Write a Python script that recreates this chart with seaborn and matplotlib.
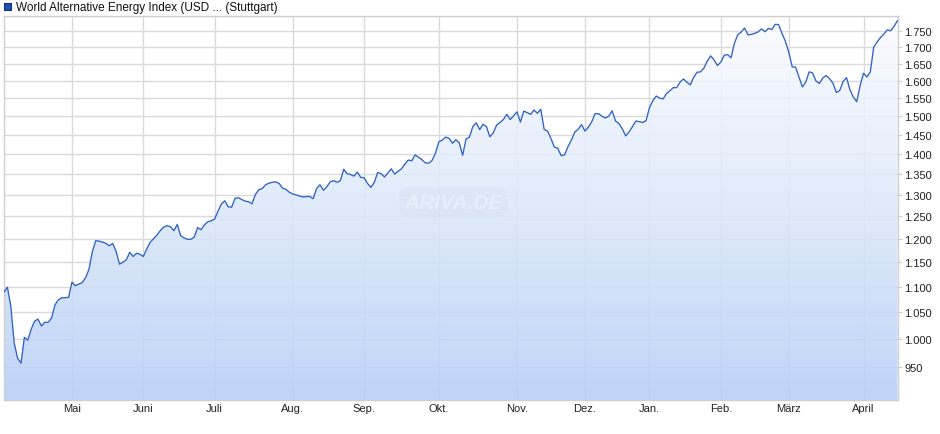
import numpy as np
import pandas as pd
import seaborn as sns
import matplotlib.pyplot as plt
from matplotlib.colors import LinearSegmentedColormap
from matplotlib.patches import Rectangle
from matplotlib.ticker import FixedLocator, FuncFormatter, NullLocator

title = "World Alternative Energy Index (USD ... (Stuttgart)"

# trading days (Stuttgart), holidays removed
start_day = "2025-04-01"
end_day = "2026-04-17"
holidays = ["2025-04-18", "2025-04-21", "2025-05-01", "2025-12-24", "2025-12-25",
            "2025-12-26", "2025-12-31", "2026-01-01", "2026-04-03", "2026-04-06"]

# closing values, month by month
apr25 = [1089, 1099, 1062, 993, 966, 957, 1003, 998, 1018, 1033, 1037, 1024, 1031, 1031,
         1039, 1064, 1074, 1078, 1078, 1079]
may25 = [1109, 1102, 1105, 1108, 1118, 1135, 1172, 1196, 1195, 1193, 1190, 1185, 1190, 1173,
         1146, 1150, 1155, 1171, 1162, 1169, 1167]
jun25 = [1162, 1178, 1192, 1200, 1208, 1218, 1226, 1229, 1227, 1218, 1232, 1207, 1202, 1199,
         1199, 1204, 1225, 1220, 1231, 1238, 1240]
jul25 = [1244, 1262, 1279, 1286, 1272, 1271, 1292, 1293, 1289, 1285, 1284, 1279, 1301, 1312,
         1315, 1324, 1328, 1330, 1331, 1327, 1316, 1313, 1306]
aug25 = [1302, 1300, 1297, 1295, 1296, 1296, 1291, 1315, 1324, 1311, 1319, 1331, 1334, 1330,
         1334, 1362, 1351, 1349, 1345, 1355, 1342]
sep25 = [1341, 1327, 1318, 1330, 1354, 1351, 1343, 1353, 1363, 1350, 1357, 1363, 1375, 1385,
         1383, 1398, 1392, 1386, 1378, 1377, 1384, 1402]
oct25 = [1432, 1436, 1444, 1441, 1428, 1437, 1429, 1397, 1439, 1444, 1472, 1482, 1464, 1478,
         1472, 1445, 1455, 1476, 1483, 1491, 1505, 1491, 1501]
nov25 = [1512, 1484, 1514, 1510, 1505, 1517, 1508, 1519, 1464, 1460, 1440, 1418, 1415, 1396,
         1398, 1419, 1436, 1457, 1465, 1477]
dec25 = [1460, 1470, 1485, 1507, 1507, 1500, 1495, 1500, 1515, 1487, 1480, 1466, 1447, 1458,
         1472, 1487, 1485, 1483, 1488]
jan26 = [1524, 1543, 1556, 1550, 1548, 1563, 1571, 1580, 1580, 1596, 1605, 1596, 1588, 1610,
         1625, 1626, 1637, 1658, 1674, 1662, 1645]
feb26 = [1655, 1676, 1678, 1668, 1713, 1740, 1748, 1761, 1739, 1741, 1744, 1749, 1758, 1749,
         1760, 1756, 1773, 1772, 1744, 1719]
mar26 = [1685, 1641, 1640, 1611, 1582, 1596, 1626, 1623, 1599, 1592, 1608, 1615, 1606, 1593,
         1566, 1572, 1598, 1609, 1574, 1553, 1540, 1586]
apr26 = [1622, 1611, 1626, 1701, 1717, 1731, 1742, 1755, 1752, 1767, 1785]

month_names = ["Mai", "Juni", "Juli", "Aug.", "Sep.", "Okt.", "Nov.", "Dez.",
               "Jan.", "Feb.", "März", "April"]
y_ticks = [950, 1000, 1050, 1100, 1150, 1200, 1250, 1300, 1350, 1400, 1450,
           1500, 1550, 1600, 1650, 1700, 1750]
y_grid_extra = [1800]

prices = apr25 + may25 + jun25 + jul25 + aug25 + sep25 + oct25 + nov25 + dec25 + jan26 + feb26 + mar26 + apr26

days = pd.bdate_range(start_day, end_day)
days = days[~days.isin(pd.to_datetime(holidays))]
df = pd.DataFrame({"day": days, "price": prices})
df["pos"] = np.arange(len(df))

# first trading day of every month (skip the starting month)
month_start = df.groupby(df["day"].dt.to_period("M"))["pos"].min().values[1:]

sns.set_style("white")
plt.rcParams["font.family"] = ["Liberation Sans", "DejaVu Sans"]

fig = plt.figure(figsize=(9.4, 4.35), dpi=100)
ax = fig.add_axes([4 / 940, 34 / 435, 893.5 / 940, 384 / 435])

line_col = "#2f62c6"
grid_col = "#dadada"

# gradient fill under the curve
grad = np.linspace(0, 1, 256).reshape(-1, 1)
cmap = LinearSegmentedColormap.from_list("fill", ["#b6cff6", "#dce8fa", "#fbfcff"])
img = ax.imshow(grad, cmap=cmap, aspect="auto", extent=[0, 1, 0, 1],
                transform=ax.transAxes, origin="lower", zorder=1, alpha=0.88,
                interpolation="bilinear")

sns.lineplot(data=df, x="pos", y="price", ax=ax, color=line_col, linewidth=0.95, zorder=3)
poly = ax.fill_between(df["pos"], df["price"], 880, facecolor="none", edgecolor="none")
img.set_clip_path(poly.get_paths()[0], transform=ax.transData)

ax.set_yscale("log")
ax.set_xlim(0, len(df) - 1)
ax.set_ylim(895, 1800)

for v in y_ticks + y_grid_extra:
    ax.axhline(v, color=grid_col, linewidth=1.0, zorder=0.5)
for p in month_start:
    ax.axvline(p, color=grid_col, linewidth=1.0, zorder=0.5)

ax.yaxis.tick_right()
ax.yaxis.set_major_locator(FixedLocator(y_ticks))
ax.yaxis.set_minor_locator(NullLocator())
ax.yaxis.set_major_formatter(FuncFormatter(lambda v, _: f"{int(round(v)):,}".replace(",", ".")))
ax.tick_params(axis="y", which="major", length=3, width=0.8, color="#cccccc",
               pad=2, labelsize=8, labelcolor="#222222")

ax.xaxis.set_major_locator(FixedLocator(month_start))
ax.set_xticklabels(month_names)
ax.xaxis.set_minor_locator(NullLocator())
ax.tick_params(axis="x", length=0, pad=2, labelsize=8, labelcolor="#222222")

ax.set_xlabel("")
ax.set_ylabel("")
for s in ax.spines.values():
    s.set_color("#cfcfcf")
    s.set_linewidth(1.0)

# faint watermark
ax.text(0.503, 0.515, "ARIVA.DE", transform=ax.transAxes, ha="center", va="center",
        fontsize=15, fontweight="bold", fontstyle="italic", color="white", alpha=0.35,
        zorder=2, bbox=dict(boxstyle="round,pad=0.25,rounding_size=0.5",
                            facecolor="#c9d5ea", edgecolor="none", alpha=0.18))

# legend entry at top-left
fig.add_artist(Rectangle((4 / 940, 1 - 11 / 435), 7 / 940, 7 / 435, transform=fig.transFigure,
                         facecolor="#1f4fb0", edgecolor="#0d2f73", linewidth=0.8))
fig.text(16 / 940, 1 - 7.5 / 435, title, ha="left", va="center", fontsize=8.5, color="#111111")

fig.savefig("out.png", dpi=100)
